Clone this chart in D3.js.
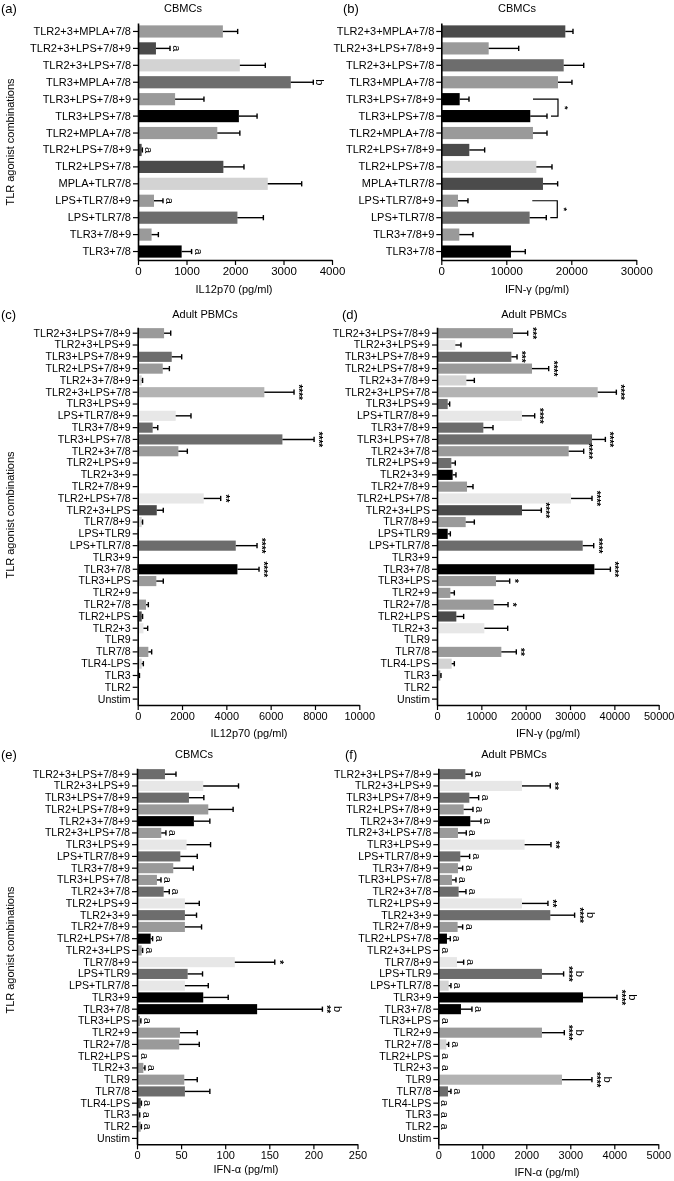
<!DOCTYPE html>
<html><head><meta charset="utf-8">
<script src="https://cdn.jsdelivr.net/npm/d3@7"></script>
<style>
body{margin:0;background:#fff;}
svg{display:block;font-family:"Liberation Sans",Arial,Helvetica,sans-serif;filter:grayscale(1);}
</style>
</head><body>
<svg id="chart" width="674" height="1181"></svg>
<script>
// ---------------- DATA ----------------
const rowsCBMC = ["TLR2+3+MPLA+7/8","TLR2+3+LPS+7/8+9","TLR2+3+LPS+7/8","TLR3+MPLA+7/8","TLR3+LPS+7/8+9","TLR3+LPS+7/8","TLR2+MPLA+7/8","TLR2+LPS+7/8+9","TLR2+LPS+7/8","MPLA+TLR7/8","LPS+TLR7/8+9","LPS+TLR7/8","TLR3+7/8+9","TLR3+7/8"];
const rowsAll = ["TLR2+3+LPS+7/8+9","TLR2+3+LPS+9","TLR3+LPS+7/8+9","TLR2+LPS+7/8+9","TLR2+3+7/8+9","TLR2+3+LPS+7/8","TLR3+LPS+9","LPS+TLR7/8+9","TLR3+7/8+9","TLR3+LPS+7/8","TLR2+3+7/8","TLR2+LPS+9","TLR2+3+9","TLR2+7/8+9","TLR2+LPS+7/8","TLR2+3+LPS","TLR7/8+9","LPS+TLR9","LPS+TLR7/8","TLR3+9","TLR3+7/8","TLR3+LPS","TLR2+9","TLR2+7/8","TLR2+LPS","TLR2+3","TLR9","TLR7/8","TLR4-LPS","TLR3","TLR2","Unstim"];

// (a) IL12p70 CBMCs
const il12Cbmc    = [1750,370,2100,3150,765,2080,1635,75,1760,2675,330,2050,280,900];
const il12CbmcSem = [305,290,525,465,595,375,465,15,425,700,185,535,140,205];
const il12CbmcAnn = ["","a","","b","","","","a","","","a","","","a"];
const il12CbmcShade = ["m","d","l","g","m","k","m","d","d","l","m","g","m","k"];

// (b) IFN-gamma CBMCs
const ifngCbmc    = [19080,7290,18830,17950,2830,13690,14100,4310,14620,15640,2570,13590,2770,10720];
const ifngCbmcSem = [1180,4620,3080,2150,1430,2570,2160,2360,2410,2260,1530,2560,2100,2200];
const ifngCbmcShade = ["d","m","g","m","k","k","m","d","l","d","m","g","m","k"];
const ifngCbmcBrackets = [[4,5,"*"],[10,11,"*"]];

// (c) IL12p70 adult PBMCs
const il12Adult    = [1190,30,1535,1130,180,5715,15,1715,675,6530,1835,0,0,0,2980,860,180,15,4425,0,4500,840,0,375,180,260,0,480,180,60,0,0];
const il12AdultSem = [300,0,450,300,40,1340,0,690,230,1430,405,0,0,0,765,295,40,0,960,0,975,315,0,105,40,190,0,150,75,20,0,0];
const il12AdultAnn = ["","","","","","****","","","","****","","","","","**","","","","****","","****","","","","","","","","","","",""];
const il12AdultShade = ["m","d","g","m","l","s","g","w","g","g","m","m","m","m","w","d","l","k","g","m","k","m","m","m","d","w","m","m","l","d","m","m"];

// (d) IFN-gamma adult PBMCs
const ifngAdult    = [17140,4135,16770,21430,6620,36240,2410,19170,10450,34960,29700,3230,3530,6770,30230,19170,6470,2410,32860,0,35490,13310,3010,12780,4360,10680,225,14510,3310,750,225,0];
const ifngAdultSem = [3310,1275,1280,3760,1800,4210,450,2860,2180,3010,3380,900,750,1350,4730,4360,1950,600,2480,0,3610,3080,900,3240,1650,5260,0,3380,600,150,0,0];
const ifngAdultAnn = ["***","","***","****","","****","","****","","****","****","","","","****","****","","","****","","****","*","","*","","","","**","","","",""];
const ifngAdultShade = ["m","w","g","m","l","s","g","w","g","g","m","g","k","m","w","d","m","k","g","m","k","m","m","m","d","w","m","m","l","m","m","m"];

// (e) IFN-alpha CBMCs
const ifnaCbmc    = [31.7,75.1,58.9,80.8,64.5,27.5,56.2,49.1,41.1,22.6,30.2,54.3,54.3,54.3,15.5,5.3,110.9,57.4,54.3,75.1,136.2,3.4,48.7,47.9,1.5,7.2,53.6,54.3,4.2,2.6,4.2,0];
const ifnaCbmcSem = [12.5,40,16.9,28.2,18.1,5.3,27.2,19.2,22.7,4.6,6.4,16.3,13.2,18.9,2.2,1.1,45.3,16.9,26.5,28.3,74,1,19.6,22.7,0,1.8,14.7,28.3,0.8,0.5,0.8,0];
const ifnaCbmcAnn = ["","","","","","a","","","","a","a","","","","a","a","*","","","","**|b","a","","","a","a","","","a","a","a",""];
const ifnaCbmcShade = ["g","w","g","m","k","m","w","g","m","m","g","w","g","m","k","m","w","g","w","k","k","m","m","m","m","m","m","g","d","m","m","m"];

// (f) IFN-alpha adult PBMCs
const ifnaAdult    = [614,1902,705,576,727,447,1962,500,447,311,462,1902,2545,439,197,8,424,2356,235,3288,515,15,2356,182,8,15,2811,220,0,0,0,0];
const ifnaAdultSem = [151,643,212,212,243,189,599,212,106,91,167,590,553,114,76,0,152,492,53,773,250,0,508,53,0,0,681,68,0,0,0,0];
const ifnaAdultAnn = ["a","**","a","a","a","a","**","a","a","a","a","**","****|b","a","a","a","a","****|b","a","****|b","a","a","****|b","a","a","a","****|b","a","a","a","a",""];
const ifnaAdultShade = ["g","w","g","m","k","m","w","g","m","m","g","w","g","m","k","m","w","g","l","k","k","m","m","l","m","m","s","g","m","m","m","m"];

const il12Ticks = [0,1000,2000,3000,4000];
const ifngCbmcTicks = [0,10000,20000,30000];
const il12AdultTicks = [0,2000,4000,6000,8000,10000];
const ifngAdultTicks = [0,10000,20000,30000,40000,50000];
const ifnaCbmcTicks = [0,50,100,150,200,250];
const ifnaAdultTicks = [0,1000,2000,3000,4000,5000];

// ---------------- DRAWING ----------------
const shadeColor = d3.scaleOrdinal()
  .domain(["k","d","g","m","s","l","w"])
  .range(["#000000","#4b4b4b","#6d6d6d","#9a9a9a","#b3b3b3","#d3d3d3","#e7e7e7"]);

const svg = d3.select("#chart");

function drawPanel(c) {
  const g = svg.append("g");
  const x = d3.scaleLinear().domain([0, c.ticks[c.ticks.length-1]]).range([c.x0, c.x1]);
  const y = d3.scaleBand().domain(c.rows).range([c.yTop, c.yBot]).paddingInner(c.pad).paddingOuter(c.pad/2);
  const cy = i => y(c.rows[i]) + y.bandwidth()/2;

  // bars
  g.selectAll("rect.bar").data(c.values).join("rect")
    .attr("x", x(0)).attr("y", (d,i)=>y(c.rows[i]))
    .attr("width", d => Math.max(0, x(d)-x(0)))
    .attr("height", y.bandwidth())
    .attr("fill", (d,i)=>shadeColor(c.shade[i]));

  // error bars
  c.values.forEach((v,i)=>{
    const s = c.sem[i];
    if (s > 0) {
      g.append("line").attr("x1", x(v)).attr("x2", x(v+s)).attr("y1", cy(i)).attr("y2", cy(i))
        .attr("stroke","#000").attr("stroke-width",1.4);
      g.append("line").attr("x1", x(v+s)).attr("x2", x(v+s)).attr("y1", cy(i)-2.6).attr("y2", cy(i)+2.6)
        .attr("stroke","#000").attr("stroke-width",1.4);
    }
  });

  // annotations
  if (c.ann) {
    c.ann.forEach((a,i)=>{
      if (!a) return;
      const pieces = a.split("|");
      const base = x(c.values[i] + c.sem[i]);
      pieces.forEach((p,k)=>{
        const star = p.indexOf("*") >= 0;
        const bx = base + (k === 0 ? (star ? 1 : 3) : 12);
        g.append("text")
          .attr("transform", `translate(${bx},${cy(i)}) rotate(90)`)
          .attr("text-anchor","middle")
          .attr("fill","#000")
          .attr("font-weight", star ? "bold" : "normal")
          .attr("font-size", star ? 10 : 11)
          .text(p);
      });
    });
  }

  // brackets
  if (c.brackets) {
    c.brackets.forEach(([i,j,lab])=>{
      const ei = x(c.values[i]+c.sem[i]), ej = x(c.values[j]+c.sem[j]);
      const vx = Math.max(ei, ej) + 11;
      const path = `M${vx-25},${cy(i)}H${vx}V${cy(j)}H${ej+4}`;
      g.append("path").attr("d", path).attr("fill","none").attr("stroke","#000").attr("stroke-width",1.2);
      g.append("text")
        .attr("transform", `translate(${vx+4},${(cy(i)+cy(j))/2}) rotate(90)`)
        .attr("text-anchor","middle").attr("fill","#000").attr("font-weight","bold").attr("font-size",9).text(lab);
    });
  }

  // axes
  const ya = g.append("g").attr("transform", `translate(${c.x0},0)`)
    .call(d3.axisLeft(y).tickSize(5).tickSizeOuter(0).tickPadding(2));
  ya.selectAll("text").attr("font-size", c.labelFont).attr("fill","#000");
  const xa = g.append("g").attr("transform", `translate(0,${c.yBot})`)
    .call(d3.axisBottom(x).tickValues(c.ticks).tickFormat(d3.format("d")).tickSize(5).tickSizeOuter(0).tickPadding(2));
  xa.selectAll("text").attr("font-size", c.tickFont).attr("fill","#000");
  g.selectAll(".domain").attr("stroke","#000").attr("stroke-width",1.6);
  g.selectAll(".tick line").attr("stroke","#000").attr("stroke-width",1.2);
  g.selectAll(".tick text").attr("font-family","'Liberation Sans',Arial,sans-serif");

  // titles
  g.append("text").attr("x", c.letterX).attr("y", c.titleY+1).attr("font-size",13).text(c.letter);
  g.append("text").attr("x", c.titleX).attr("y", c.titleY).attr("text-anchor","middle").attr("font-size",11).text(c.title);
  g.append("text").attr("x", c.xTitleX).attr("y", c.xTitleY).attr("text-anchor","middle").attr("font-size",11).text(c.xTitle);
  if (c.yTitleY) {
    g.append("text").attr("transform", `translate(14,${c.yTitleY}) rotate(-90)`)
      .attr("text-anchor","middle").attr("font-size",11).text("TLR agonist combinations");
  }
}

drawPanel({rows: rowsCBMC, values: il12Cbmc, sem: il12CbmcSem, ann: il12CbmcAnn, shade: il12CbmcShade, ticks: il12Ticks,
  x0:138, x1:332, yTop:23, yBot:260, pad:0.28, labelFont:11, tickFont:11.5,
  letter:"(a)", letterX:1, title:"CBMCs", titleX:183, titleY:12, xTitle:"IL12p70 (pg/ml)", xTitleX:234, xTitleY:293, yTitleY:142});

drawPanel({rows: rowsCBMC, values: ifngCbmc, sem: ifngCbmcSem, shade: ifngCbmcShade, brackets: ifngCbmcBrackets, ticks: ifngCbmcTicks,
  x0:441.3, x1:636.3, yTop:23, yBot:260, pad:0.28, labelFont:11, tickFont:11.5,
  letter:"(b)", letterX:343, title:"CBMCs", titleX:517, titleY:12, xTitle:"IFN-γ (pg/ml)", xTitleX:537, xTitleY:293});

drawPanel({rows: rowsAll, values: il12Adult, sem: il12AdultSem, ann: il12AdultAnn, shade: il12AdultShade, ticks: il12AdultTicks,
  x0:137.7, x1:359.3, yTop:327.3, yBot:705, pad:0.14, labelFont:10.6, tickFont:11,
  letter:"(c)", letterX:1, title:"Adult PBMCs", titleX:205, titleY:318, xTitle:"IL12p70 (pg/ml)", xTitleX:249, xTitleY:737, yTitleY:515});

drawPanel({rows: rowsAll, values: ifngAdult, sem: ifngAdultSem, ann: ifngAdultAnn, shade: ifngAdultShade, ticks: ifngAdultTicks,
  x0:437, x1:658.7, yTop:327.3, yBot:705, pad:0.14, labelFont:10.6, tickFont:11,
  letter:"(d)", letterX:342, title:"Adult PBMCs", titleX:534, titleY:318, xTitle:"IFN-γ (pg/ml)", xTitleX:548, xTitleY:737});

drawPanel({rows: rowsAll, values: ifnaCbmc, sem: ifnaCbmcSem, ann: ifnaCbmcAnn, shade: ifnaCbmcShade, ticks: ifnaCbmcTicks,
  x0:137, x1:357.5, yTop:768.3, yBot:1144.3, pad:0.14, labelFont:10.6, tickFont:11,
  letter:"(e)", letterX:1, title:"CBMCs", titleX:194, titleY:758, xTitle:"IFN-α (pg/ml)", xTitleX:246, xTitleY:1173, yTitleY:950});

drawPanel({rows: rowsAll, values: ifnaAdult, sem: ifnaAdultSem, ann: ifnaAdultAnn, shade: ifnaAdultShade, ticks: ifnaAdultTicks,
  x0:438.3, x1:658.3, yTop:768.3, yBot:1144.3, pad:0.14, labelFont:10.6, tickFont:11,
  letter:"(f)", letterX:345, title:"Adult PBMCs", titleX:514, titleY:758, xTitle:"IFN-α (pg/ml)", xTitleX:547, xTitleY:1176});
</script>
</body></html>
